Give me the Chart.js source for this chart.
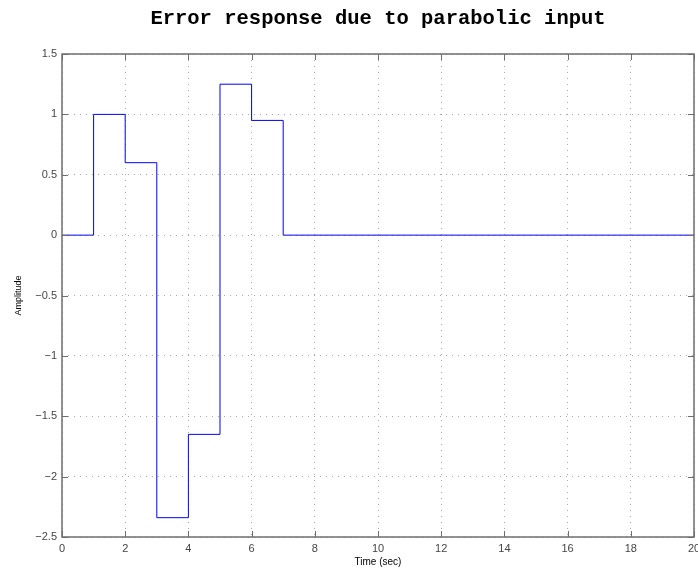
<!DOCTYPE html>
<html>
<head>
<meta charset="utf-8">
<script src="https://cdn.jsdelivr.net/npm/chart.js@4.4.1/dist/chart.umd.min.js"></script>
<style>
  html, body { margin: 0; padding: 0; background: #fff; }
  #wrap { width: 698px; height: 574px; }
</style>
</head>
<body>
<div id="wrap"><canvas id="error-chart"></canvas></div>
<script>
// time instants (sec) where the step value changes
const times = [0, 1, 2, 3, 4, 5, 6, 7, 20];
// error amplitude held from each instant until the next one
const amplitude = [0, 1, 0.6, -2.34, -1.65, 1.25, 0.95, 0, 0];
const xTicks = [0, 2, 4, 6, 8, 10, 12, 14, 16, 18, 20];
const yTicks = [-2.5, -2, -1.5, -1, -0.5, 0, 0.5, 1, 1.5];

const points = times.map((t, i) => ({ x: t, y: amplitude[i] }));

function fmt(v) {
  return v < 0 ? '\u2212' + String(-v) : String(v);
}

// box around the plot and inward ticks, like matlab axes
const boxPlugin = {
  id: 'box',
  afterDraw(chart) {
    const { ctx, chartArea: a, scales } = chart;
    ctx.save();
    ctx.strokeStyle = '#6e6e6e';
    ctx.lineWidth = 1;
    ctx.beginPath();
    xTicks.forEach(v => {
      const px = Math.round(scales.x.getPixelForValue(v)) + 0.5;
      ctx.moveTo(px, a.bottom); ctx.lineTo(px, a.bottom - 6);
      ctx.moveTo(px, a.top); ctx.lineTo(px, a.top + 6);
    });
    yTicks.forEach(v => {
      const py = Math.round(scales.y.getPixelForValue(v)) + 0.5;
      ctx.moveTo(a.left, py); ctx.lineTo(a.left + 6, py);
      ctx.moveTo(a.right, py); ctx.lineTo(a.right - 6, py);
    });
    ctx.stroke();
    ctx.lineWidth = 1.5;
    ctx.strokeRect(a.left, a.top, a.right - a.left, a.bottom - a.top);
    ctx.restore();
  }
};

const canvas = document.getElementById('error-chart');

new Chart(canvas.getContext('2d'), {
  type: 'line',
  data: {
    datasets: [{
      data: points,
      stepped: 'before',
      borderColor: '#0000ff',
      borderWidth: 1,
      pointRadius: 0,
      fill: false,
    }],
  },
  options: {
    responsive: true,
    maintainAspectRatio: false,
    animation: false,
    layout: { padding: { left: 0, right: 4, top: 0, bottom: 0 } },
    plugins: {
      legend: { display: false },
      tooltip: { enabled: false },
      title: {
        display: true,
        fullSize: false,
        text: 'Error response due to parabolic input',
        color: '#000',
        font: { family: 'Liberation Mono', size: 20.5, weight: 'bold' },
        padding: { top: 7, bottom: 22.4 },
      },
    },
    scales: {
      x: {
        type: 'linear',
        min: 0,
        max: 20,
        afterBuildTicks: scale => { scale.ticks = xTicks.map(v => ({ value: v })); },
        afterFit: scale => { scale.height = 37; scale.paddingLeft = 0; scale.paddingRight = 0; },
        grid: {
          color: '#a8a8a8',
          drawTicks: false,
        },
        border: { display: false, dash: [1, 5] },
        ticks: {
          padding: 5,
          color: '#444',
          font: { family: 'Liberation Sans', size: 11 },
          callback: v => fmt(v),
          maxRotation: 0,
          autoSkip: false,
        },
        title: {
          display: true,
          text: 'Time (sec)',
          color: '#000',
          font: { family: 'Liberation Sans', size: 10 },
          padding: { top: 0, bottom: 6 },
        },
      },
      y: {
        type: 'linear',
        min: -2.5,
        max: 1.5,
        afterBuildTicks: scale => { scale.ticks = yTicks.map(v => ({ value: v })); },
        afterFit: scale => { scale.width = 62; scale.paddingTop = 0; scale.paddingBottom = 0; },
        grid: {
          color: '#a8a8a8',
          drawTicks: false,
        },
        border: { display: false, dash: [1, 5] },
        ticks: {
          padding: 5,
          color: '#444',
          font: { family: 'Liberation Sans', size: 11 },
          callback: v => fmt(v),
          autoSkip: false,
        },
        title: {
          display: true,
          text: 'Amplitude',
          color: '#000',
          font: { family: 'Liberation Sans', size: 9 },
          padding: { top: 13, bottom: 0 },
        },
      },
    },
  },
  plugins: [boxPlugin],
});
</script>
</body>
</html>
